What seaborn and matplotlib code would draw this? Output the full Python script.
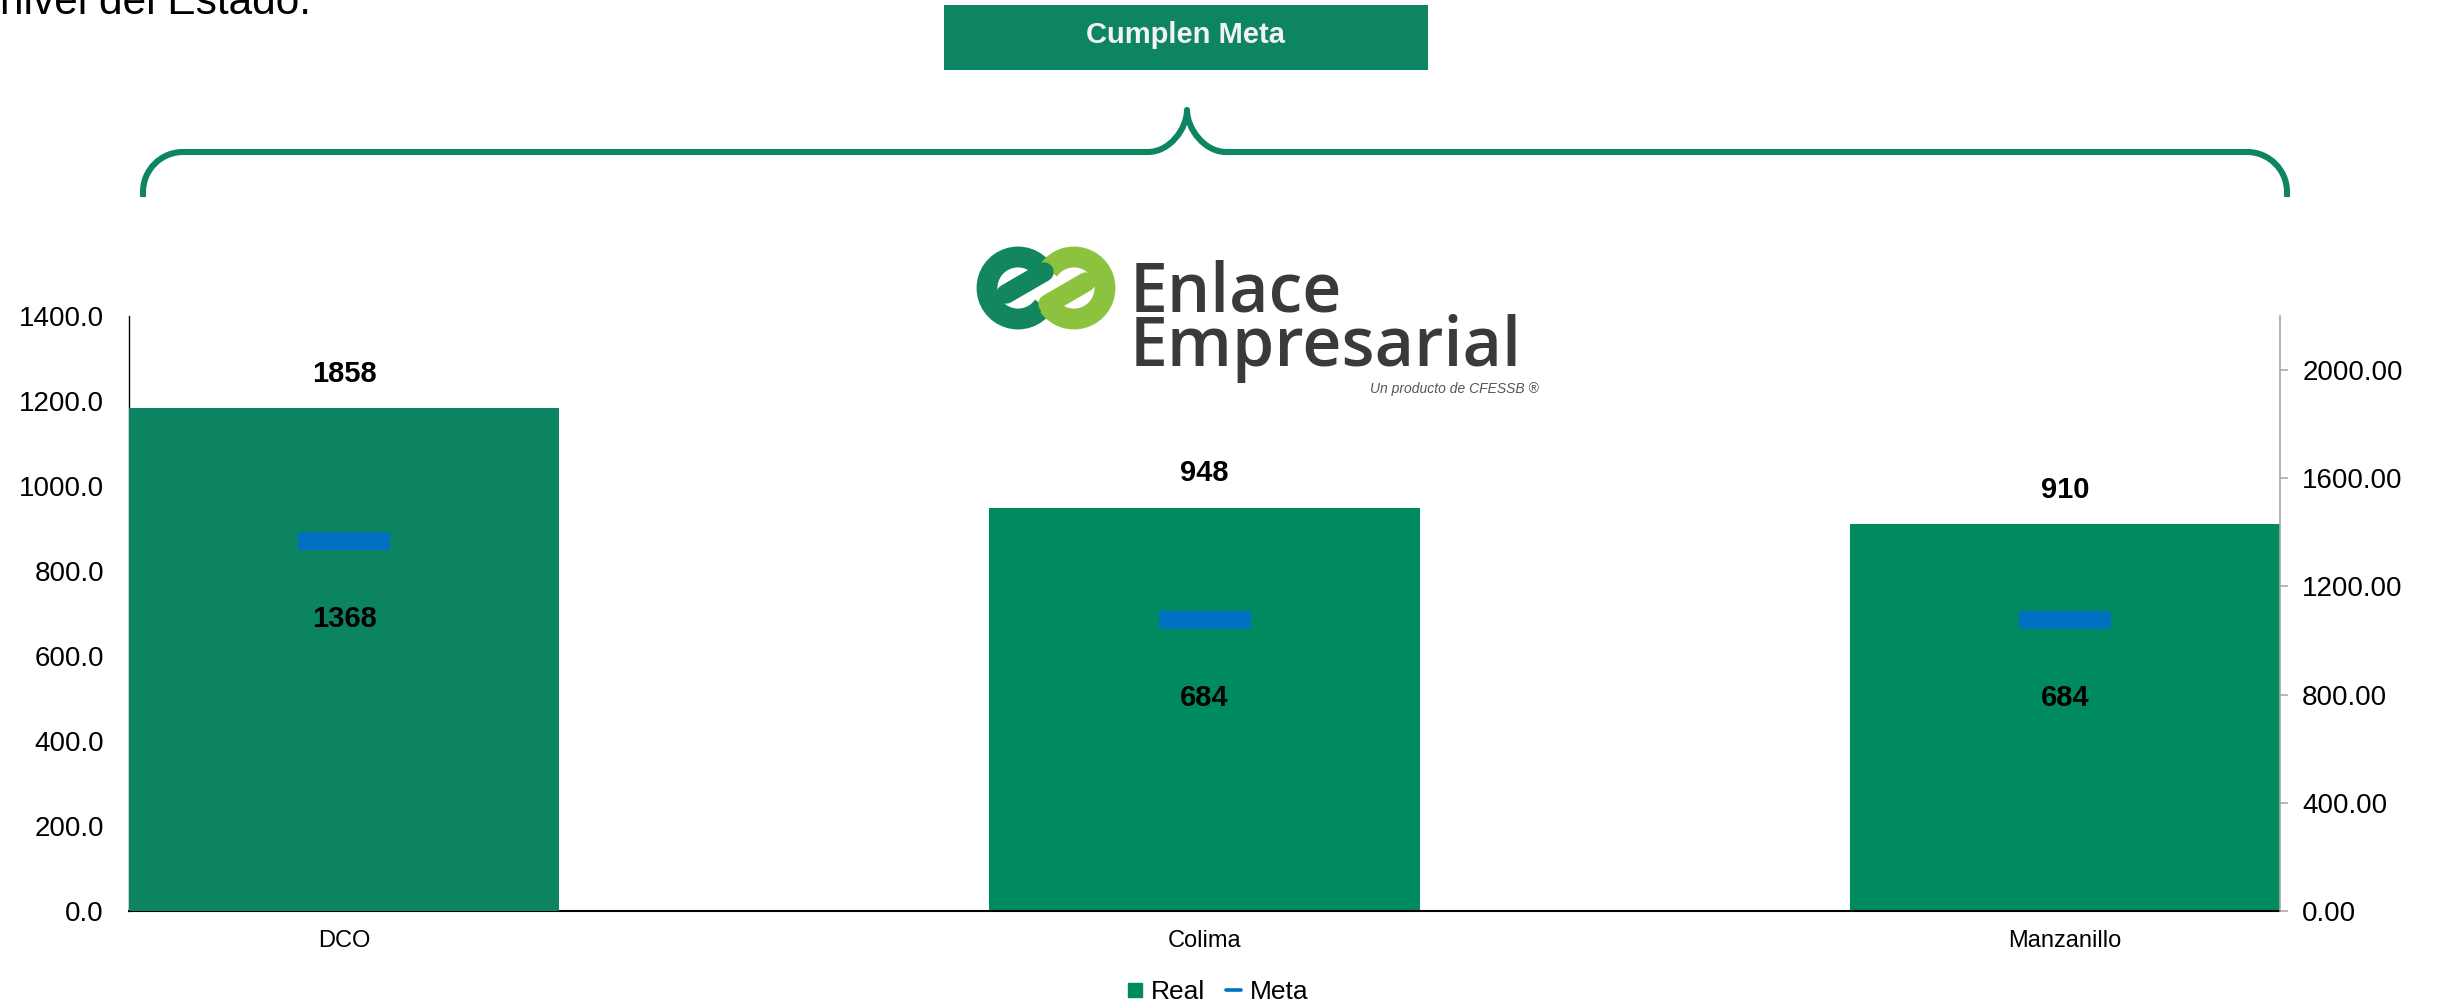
import numpy as np
import pandas as pd
import matplotlib
matplotlib.use("Agg")
import matplotlib.pyplot as plt
import seaborn as sns
from matplotlib.patches import Rectangle, Arc, PathPatch
from matplotlib.path import Path
from matplotlib.lines import Line2D

# ---------------- data ----------------
categories = ["DCO", "Colima", "Manzanillo"]
real_values = [1858, 948, 910]
meta_values = [1368, 684, 684]
# axis each column was drawn against in the original workbook chart
value_axis = ["secondary", "primary", "primary"]

left_ticks = [0, 200, 400, 600, 800, 1000, 1200, 1400]
right_ticks = [0, 400, 800, 1200, 1600, 2000]
left_max = 1400
right_max = 2200

title_text = "nivel del Estado."
banner_text = "Cumplen Meta"
legend_labels = ["Real", "Meta"]

# ---------------- style ----------------
sns.set_style("white")
plt.rcParams["font.family"] = ["Liberation Sans", "DejaVu Sans"]
plt.rcParams["text.color"] = "black"

GREEN_DCO = "#0C8461"
GREEN = "#008A60"
BLUE = "#0070C0"
BRAND = "#0E8562"

W, H = 2443, 1006
fig = plt.figure(figsize=(W / 100, H / 100), dpi=100)

ax = fig.add_axes([129 / W, 1 - 911 / H, (2280 - 129) / W, (911 - 316) / H])
ax2 = ax.twinx()

df = pd.DataFrame({"cat": categories, "real": real_values,
                   "meta": meta_values, "axis": value_axis})
pal = {"DCO": GREEN_DCO, "Colima": GREEN, "Manzanillo": GREEN}

sub_p = df[df["axis"] == "primary"]
sub_s = df[df["axis"] == "secondary"]
sns.barplot(data=sub_p, x="cat", y="real", order=categories, hue="cat",
            hue_order=categories, palette=pal, width=0.5, legend=False,
            ax=ax, saturation=1, linewidth=0)
sns.barplot(data=sub_s, x="cat", y="real", order=categories, hue="cat",
            hue_order=categories, palette=pal, width=0.5, legend=False,
            ax=ax2, saturation=1, linewidth=0)

pos = {c: i for i, c in enumerate(categories)}
for sub, a in ((sub_p, ax), (sub_s, ax2)):
    xs = [pos[c] for c in sub["cat"]]
    sns.scatterplot(x=xs, y=sub["meta"].tolist(), marker="_", s=66 ** 2,
                    color=BLUE, linewidth=13, ax=a, legend=False, zorder=5)
    for x, r, m in zip(xs, sub["real"], sub["meta"]):
        a.annotate(f"{r}", (x, r), xytext=(0, 25), textcoords="offset points",
                   ha="center", va="center", fontsize=21, fontweight="bold",
                   color="black")
        a.annotate(f"{m}", (x, m), xytext=(0, -56), textcoords="offset points",
                   ha="center", va="center", fontsize=21, fontweight="bold",
                   color="black")

ax.set_xlim(-0.25, len(categories) - 0.75)
ax.set_ylim(0, left_max)
ax2.set_ylim(0, right_max)
for a in (ax, ax2):
    a.set_xlabel("")
    a.set_ylabel("")
    a.grid(False)

ax.set_yticks(left_ticks)
ax.set_yticklabels([f"{t:.1f}" for t in left_ticks], fontsize=20)
ax.tick_params(axis="y", length=0, pad=18, labelcolor="black")
ax.set_xticks(range(len(categories)))
ax.set_xticklabels(categories, fontsize=17)
ax.tick_params(axis="x", length=0, pad=14, labelcolor="black")

ax2.set_yticks(right_ticks)
ax2.set_yticklabels([f"{t:.2f}" for t in right_ticks], fontsize=20)
ax2.tick_params(axis="y", length=6, width=1.1, color="#A6A6A6", pad=10,
                labelcolor="black")

for a in (ax, ax2):
    a.spines["top"].set_visible(False)
ax.spines["right"].set_visible(False)
ax.spines["left"].set_color("black")
ax.spines["left"].set_linewidth(1.0)
ax.spines["bottom"].set_color("black")
ax.spines["bottom"].set_linewidth(1.5)
ax2.spines["left"].set_visible(False)
ax2.spines["bottom"].set_visible(False)
ax2.spines["right"].set_color("#A6A6A6")
ax2.spines["right"].set_linewidth(1.2)

# legend
handles = [Line2D([], [], marker="s", ls="", color=GREEN, markersize=10),
           Line2D([], [], color=BLUE, lw=2.6)]
leg = fig.legend(handles, legend_labels, loc="center",
                 bbox_to_anchor=(1218 / W, 1 - 992 / H), ncol=2,
                 frameon=False, fontsize=19, handlelength=0.55,
                 handletextpad=0.35, columnspacing=0.8)
for t in leg.get_texts():
    t.set_color("black")

# ---------------- decorations (pixel overlay) ----------------
ov = fig.add_axes([0, 0, 1, 1], zorder=10)
ov.set_xlim(0, W)
ov.set_ylim(H, 0)
ov.axis("off")
ov.patch.set_visible(False)

ov.text(0, 14, title_text, fontsize=30.5, va="baseline", ha="left",
        color="black")

ov.add_patch(Rectangle((944, 5), 484, 65, color=BRAND, lw=0))
ov.text(1186, 35, banner_text, ha="center", va="center", fontsize=21,
        fontweight="bold", color="#F2F2F2")

k = 0.552
verts = [(143, 197), (143, 192),
         (143, 192 - k * 40), (183 - k * 40, 152), (183, 152),
         (1148, 152),
         (1148 + k * 39, 152), (1187, 152 - k * 42), (1187, 110),
         (1187, 152 - k * 42), (1226 - k * 39, 152), (1226, 152),
         (2247, 152),
         (2247 + k * 40, 152), (2287, 192 - k * 40), (2287, 192),
         (2287, 197)]
codes = [Path.MOVETO, Path.LINETO,
         Path.CURVE4, Path.CURVE4, Path.CURVE4,
         Path.LINETO,
         Path.CURVE4, Path.CURVE4, Path.CURVE4,
         Path.CURVE4, Path.CURVE4, Path.CURVE4,
         Path.LINETO,
         Path.CURVE4, Path.CURVE4, Path.CURVE4,
         Path.LINETO]
ov.add_patch(PathPatch(Path(verts, codes), fill=False, edgecolor=BRAND,
                       lw=4.4, capstyle="butt", joinstyle="round"))

# logo icon
DARK_E = "#12875F"
LIGHT_E = "#8DC23F"
r = 31
ov.add_patch(Arc((1018, 288), 2 * r, 2 * r, theta1=35, theta2=325,
                 color=DARK_E, lw=15))
ov.plot([1006, 1044], [294, 272], color=DARK_E, lw=14,
        solid_capstyle="round")
ov.add_patch(Arc((1074, 288), 2 * r, 2 * r, theta1=215, theta2=505,
                 color=LIGHT_E, lw=15))
ov.plot([1086, 1048], [282, 304], color=LIGHT_E, lw=14,
        solid_capstyle="round")

ov.text(1130, 366, "Enlace\nEmpresarial", fontsize=49,
        family=["Open Sans", "DejaVu Sans"], fontweight="semibold",
        color="#3A3A3A", va="baseline", ha="left", linespacing=0.72,
        multialignment="left")
ov.text(1539, 389, "Un producto de CFESSB ®", fontsize=10, style="italic",
        color="#555555", va="center", ha="right")

fig.savefig("out.png", dpi=100)
